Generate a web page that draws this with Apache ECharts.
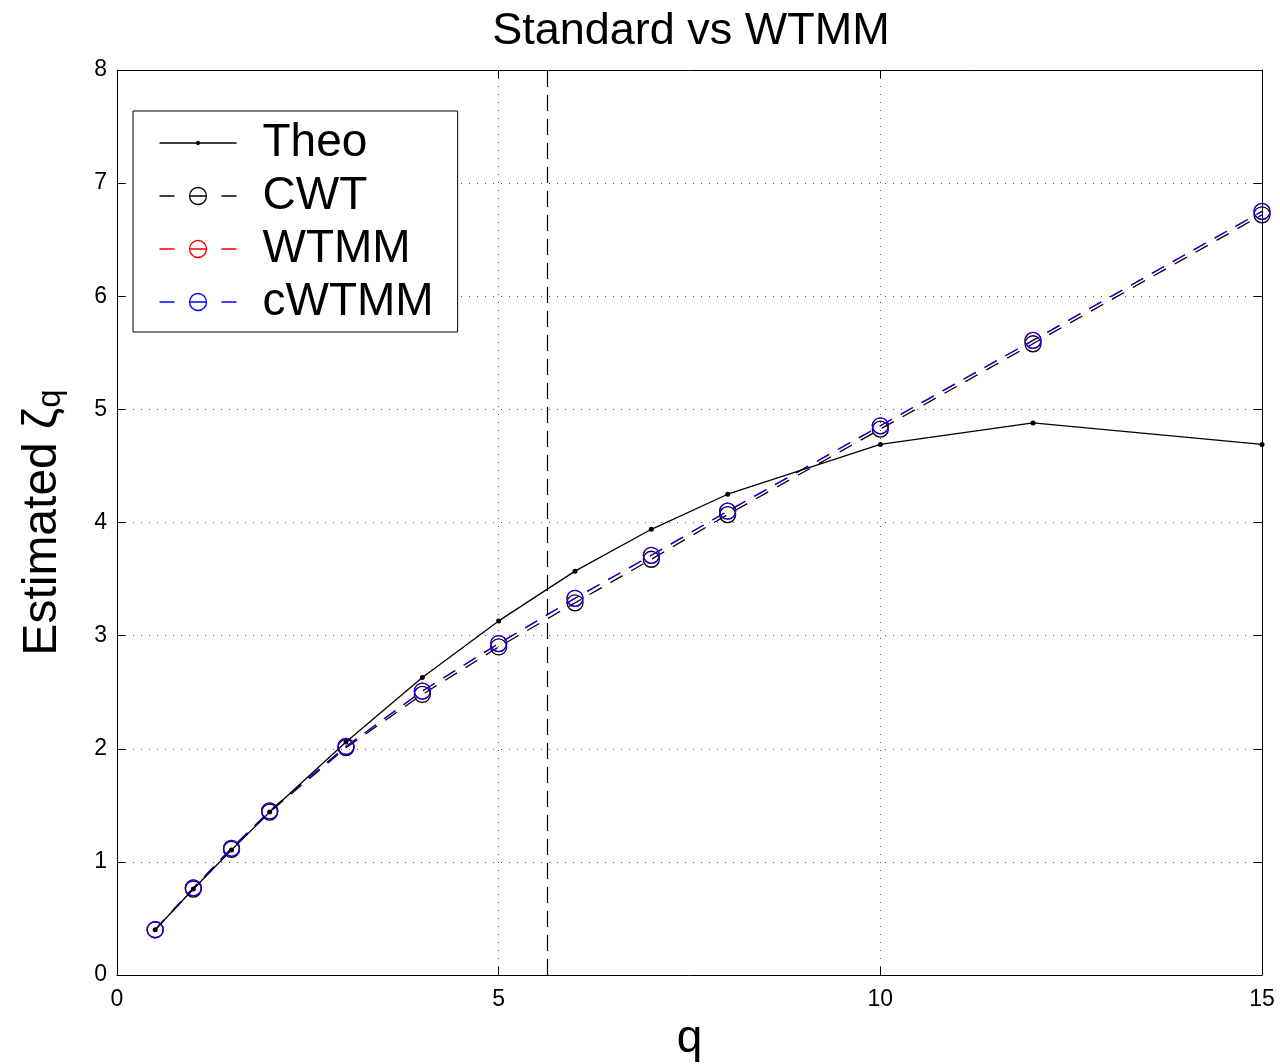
<!DOCTYPE html>
<html>
<head>
<meta charset="utf-8">
<script src="https://cdn.jsdelivr.net/npm/echarts@6/dist/echarts.min.js"></script>
<style>html,body{margin:0;padding:0;background:#fff;}#c{width:1280px;height:1064px;}</style>
</head>
<body>
<div id="c"></div>
<script>
const qTheo = [0.5, 1, 1.5, 2, 3, 4, 5, 6, 7, 8, 10, 12, 15];
const theo  = [0.40, 0.76, 1.105, 1.44, 2.06, 2.63, 3.13, 3.57, 3.94, 4.25, 4.69, 4.88, 4.69];
const qEst  = [0.5, 1, 1.5, 2, 3, 4, 5, 6, 7, 8, 10, 12, 15];
const cwt   = [0.40, 0.76, 1.11, 1.44, 2.01, 2.48, 2.90, 3.29, 3.675, 4.07, 4.825, 5.58, 6.72];
const wtmm  = [0.40, 0.77, 1.12, 1.45, 2.02, 2.51, 2.93, 3.33, 3.71, 4.10, 4.855, 5.61, 6.75];
const cwtmm = [0.40, 0.77, 1.12, 1.45, 2.02, 2.51, 2.93, 3.33, 3.71, 4.10, 4.855, 5.61, 6.75];
const cutoffQ = 5.63;
const xTicks = [0, 5, 10, 15];
const yTicks = [0, 1, 2, 3, 4, 5, 6, 7, 8];

const FONT = 'Liberation Sans, Arial, Helvetica, sans-serif';
const zip = (xs, ys) => xs.map((x, i) => [x, ys[i]]);

// legend icons (line - marker - line), drawn as stroked paths
const ICON_SOLID_DOT = 'path://M0 9H77M40 9A1.5 1.5 0 1 1 37 9A1.5 1.5 0 1 1 40 9';
const ICON_DASH_CIRC = 'path://M0 9H15M62 9H77M47 9A8.5 8.5 0 1 1 30 9A8.5 8.5 0 1 1 47 9M30 9H47';

const chart = echarts.init(document.getElementById('c'), null, {renderer: 'canvas'});
const gridLine = {show: true, lineStyle: {color: '#555', type: [1, 7], width: 1}};
const axisCommon = {
  axisLine: {show: true, onZero: false, lineStyle: {color: '#000', width: 1}},
  axisTick: {show: true, inside: true, length: 8, lineStyle: {color: '#000'}},
};
function estSeries(name, data, color, z) {
  return {
    name, type: 'line', data, z,
    symbol: 'circle', symbolSize: 16,
    itemStyle: {color: 'rgba(0,0,0,0)', borderColor: color, borderWidth: 1.3},
    lineStyle: {color, width: 1.3, type: [14, 10]},
    emphasis: {disabled: true}, animation: false
  };
}
function legendItem(name, icon, color) {
  return {name, icon, itemStyle: {color: 'none', borderColor: color, borderWidth: 1.3}};
}
chart.setOption({
  animation: false,
  backgroundColor: '#fff',
  title: {
    text: 'Standard vs WTMM', left: 686, top: 4, textAlign: 'center',
    textStyle: {fontFamily: FONT, fontSize: 45, fontWeight: 'normal', color: '#000'}
  },
  grid: {left: 117, right: 18, top: 70, bottom: 89, containLabel: false, outerBoundsMode: 'none'},
  legend: {
    orient: 'vertical', left: 133, top: 111,
    data: [
      legendItem('Theo', ICON_SOLID_DOT, '#000'),
      legendItem('CWT', ICON_DASH_CIRC, '#000'),
      legendItem('WTMM', ICON_DASH_CIRC, '#ff0000'),
      legendItem('cWTMM', ICON_DASH_CIRC, '#0000ff')
    ],
    backgroundColor: '#fff', borderColor: '#000', borderWidth: 1,
    padding: [9, 24, 7, 24], itemGap: 7,
    itemWidth: 77, itemHeight: 18,
    textStyle: {fontFamily: FONT, fontSize: 46, color: '#000', lineHeight: 46, padding: [0, 0, 0, 21]}
  },
  xAxis: [{
    type: 'value', min: 0, max: 15, interval: 5, position: 'bottom',
    ...axisCommon,
    splitLine: gridLine,
    axisLabel: {fontFamily: FONT, fontSize: 23, color: '#000', margin: 13,
      formatter: v => xTicks.includes(v) ? String(v) : ''},
    name: 'q', nameLocation: 'middle', nameGap: 40,
    nameTextStyle: {fontFamily: FONT, fontSize: 46, color: '#000'}
  }, {
    type: 'value', min: 0, max: 15, interval: 5, position: 'top',
    ...axisCommon, splitLine: {show: false}, axisLabel: {show: false}
  }],
  yAxis: [{
    type: 'value', min: 0, max: 8, interval: 1, position: 'left',
    ...axisCommon,
    splitLine: gridLine,
    axisLabel: {fontFamily: FONT, fontSize: 23, color: '#000', margin: 10,
      formatter: v => yTicks.includes(v) ? String(v) : ''},
    name: '{m|Estimated ζ}{s|q}', nameLocation: 'middle', nameGap: 50, nameRotate: 90,
    nameTextStyle: {
      fontFamily: FONT, color: '#000',
      rich: {
        m: {fontFamily: FONT, fontSize: 48, color: '#000', lineHeight: 48, verticalAlign: 'top'},
        s: {fontFamily: FONT, fontSize: 33, color: '#000', lineHeight: 34, padding: [34, 0, 0, 0], verticalAlign: 'bottom'}
      }
    }
  }, {
    type: 'value', min: 0, max: 8, interval: 1, position: 'right',
    ...axisCommon, splitLine: {show: false}, axisLabel: {show: false}
  }],
  series: [
    estSeries('CWT', zip(qEst, cwt), '#000', 2),
    estSeries('WTMM', zip(qEst, wtmm), '#ff0000', 3),
    Object.assign(estSeries('cWTMM', zip(qEst, cwtmm), '#0000ff', 4), {
      markLine: {
        silent: true, symbol: 'none', animation: false,
        label: {show: false},
        lineStyle: {color: '#000', type: [16, 8], width: 1.2},
        data: [{xAxis: cutoffQ}]
      }
    }),
    {
      name: 'Theo', type: 'line', data: zip(qTheo, theo), z: 5,
      symbol: 'circle', symbolSize: 5,
      itemStyle: {color: '#000'},
      lineStyle: {color: '#000', width: 1.3, type: 'solid'},
      emphasis: {disabled: true}, animation: false
    }
  ]
});
</script>
</body>
</html>
